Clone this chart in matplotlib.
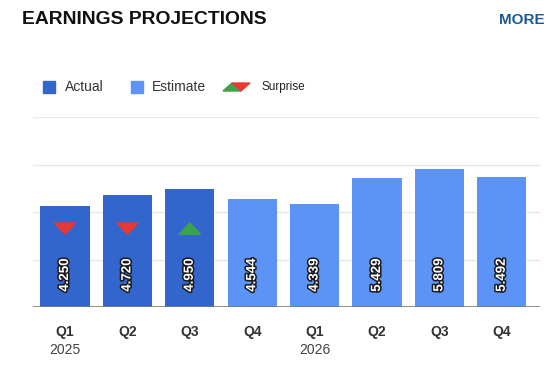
import matplotlib
matplotlib.use("Agg")
import matplotlib.pyplot as plt
import matplotlib.patheffects as pe
import matplotlib.transforms as mtransforms
from matplotlib.patches import Polygon, Rectangle

quarters = ["Q1", "Q2", "Q3", "Q4", "Q1", "Q2", "Q3", "Q4"]
years = ["2025", "", "", "", "2026", "", "", ""]
values = [4.250, 4.720, 4.950, 4.544, 4.339, 5.429, 5.809, 5.492]
is_actual = [True, True, True, False, False, False, False, False]
surprise = ["down", "down", "up", None, None, None, None, None]

actual_color = "#3366CC"
estimate_color = "#5B93F7"
red = "#E53935"
green = "#3DA34A"

W, H = 559, 366
fig = plt.figure(figsize=(W / 100, H / 100), dpi=100)

def fx(px):
    return px / W

def fy(py):
    return 1 - py / H

ax = fig.add_axes([fx(33), fy(307), fx(540) - fx(33), fy(117) - fy(307)])
ax.set_xlim(-0.513, 7.612)
ax.set_ylim(0, 8)
for s in ax.spines.values():
    s.set_visible(False)
ax.set_yticks([2, 4, 6, 8])
ax.yaxis.grid(True, color="#e8e8e8", linewidth=1)
ax.set_axisbelow(True)
ax.tick_params(left=False, labelleft=False, bottom=False, labelbottom=False)
ax.axhline(0, color="#7a7a7a", linewidth=1.2, zorder=5)

x = list(range(len(values)))
colors = [actual_color if a else estimate_color for a in is_actual]
ax.bar(x, values, width=0.79, color=colors, zorder=3)

for xi, v in zip(x, values):
    ax.text(xi, 1.35, f"{v:.3f}", rotation=90, ha="center", va="center",
            color="white", fontsize=9.6, fontweight="bold", zorder=6,
            family="Liberation Sans",
            path_effects=[pe.withStroke(linewidth=2.2, foreground="#1a1a1a")])

for xi, s in zip(x, surprise):
    if s is None:
        continue
    hw = 0.17
    yc = 3.3
    hh = 0.24
    if s == "down":
        pts = [(xi - hw, yc + hh), (xi + hw, yc + hh), (xi, yc - hh)]
        c = red
    else:
        pts = [(xi - hw, yc - hh), (xi + hw, yc - hh), (xi, yc + hh)]
        c = green
    ax.add_patch(Polygon(pts, closed=True, color=c, zorder=6))

blend = mtransforms.blended_transform_factory(ax.transData, fig.transFigure)
for xi, q, yr in zip(x, quarters, years):
    fig.text(xi, fy(332), q, transform=blend, ha="center", va="center",
             fontsize=10, fontweight="bold", color="#333333", family="Liberation Sans")
    if yr:
        fig.text(xi, fy(350), yr, transform=blend, ha="center", va="center",
                 fontsize=10, color="#444444", family="Liberation Sans")

fig.text(fx(22), fy(20), "EARNINGS PROJECTIONS", ha="left", va="center",
         fontsize=13.9, fontweight="heavy", color="#111111", family="Liberation Sans")
fig.text(fx(545), fy(20), "MORE", ha="right", va="center",
         fontsize=11, fontweight="bold", color="#1B5A94", family="Liberation Sans")

fig.patches.append(Rectangle((fx(43), fy(93)), fx(12), fy(81) - fy(93),
                             transform=fig.transFigure, color=actual_color))
fig.text(fx(65), fy(87), "Actual", ha="left", va="center", fontsize=10,
         color="#333333", family="Liberation Sans")
fig.patches.append(Rectangle((fx(131), fy(93)), fx(12), fy(81) - fy(93),
                             transform=fig.transFigure, color=estimate_color))
fig.text(fx(152), fy(87), "Estimate", ha="left", va="center", fontsize=10,
         color="#333333", family="Liberation Sans")
fig.patches.append(Polygon([(fx(223), fy(91)), (fx(241), fy(91)), (fx(232), fy(83))],
                           closed=True, transform=fig.transFigure, color=green))
fig.patches.append(Polygon([(fx(232), fy(83)), (fx(250), fy(83)), (fx(241), fy(91))],
                           closed=True, transform=fig.transFigure, color=red))
fig.text(fx(261), fy(87), "Surprise", ha="left", va="center", fontsize=8.5,
         color="#222222", family="Liberation Sans")

fig.savefig("out.png", dpi=100, facecolor="white")
